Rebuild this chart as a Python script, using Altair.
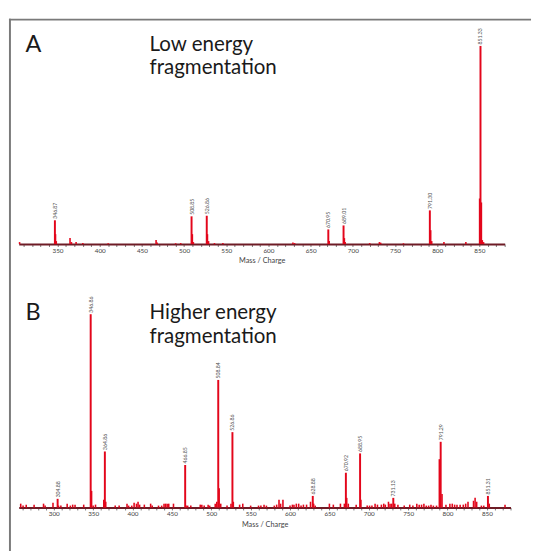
import altair as alt
import pandas as pd

# ---------------- Panel A (low energy) ----------------
a_peak_mz = [346.87, 508.85, 526.86, 670.95, 689.01, 791.30, 851.33]
a_peak_int = [12.0, 14.0, 14.3, 7.4, 9.4, 17.0, 100.0]
a_peak_lbl = ["346.87", "508.85", "526.86", "670.95", "689.01", "791.30", "851.33"]

a_minor_mz = [305, 347.6, 348.5, 364.8, 366.5, 372, 380, 410, 466.8, 468, 490, 496,
              509.8, 511, 527.7, 529, 536, 546, 629, 631, 672, 690, 691, 720, 731.5,
              733, 760, 792.3, 793.5, 808, 834, 850.3, 852.4, 853.5, 855]
a_minor_int = [1.0, 5.0, 1.5, 3.0, 1.0, 1.0, 0.5, 0.4, 2.0, 0.8, 0.4, 0.5,
               5.0, 1.0, 5.0, 1.5, 0.5, 0.5, 0.8, 0.5, 1.5, 3.0, 1.0, 0.5, 1.0,
               0.7, 0.4, 7.0, 1.5, 1.0, 1.0, 23.0, 21.0, 2.0, 1.0]

# ---------------- Panel B (higher energy) ----------------
b_peak_mz = [304.88, 346.86, 364.86, 466.85, 508.84, 526.86, 628.88, 670.92, 688.95, 731.13, 791.29, 851.31]
b_peak_int = [4.5, 100.0, 29.0, 22.0, 66.0, 39.0, 6.0, 18.0, 28.0, 5.0, 34.0, 6.0]
b_peak_lbl = ["304.88", "346.86", "364.86", "466.85", "508.84", "526.86", "628.88",
              "670.92", "688.95", "731.13", "791.29", "851.31"]

b_minor_mz = [258, 261, 265, 275, 287, 289, 299, 306, 309, 317, 321, 324, 327, 338,
              348, 350, 353, 363.5, 366, 378, 383, 393, 395, 399, 402, 405, 407, 409,
              415, 423, 425, 433, 437, 440, 442, 444, 446, 452, 468, 470, 474, 486,
              488, 491, 496, 498, 505, 507, 510, 512, 520, 525, 528, 536, 540, 550,
              560, 563, 567, 570, 580, 583, 586, 588, 591, 600, 603, 605, 608, 611,
              614, 617, 621, 626, 630, 632, 650, 655, 664, 669, 672, 674, 684, 690,
              698, 701, 704, 708, 711, 716, 719, 721, 725, 727, 729, 733, 737, 745,
              752, 756, 761, 764, 767, 770, 773, 776, 779, 782, 786, 789.6, 793, 798,
              803, 806, 809, 812, 816, 820, 823, 826, 833, 835, 837, 843, 846, 853, 873]
b_minor_int = [2.0, 1.0, 1.5, 1.5, 2.0, 1.0, 2.5, 1.0, 1.0, 2.0, 1.0, 1.5, 1.5, 1.5,
               8.6, 1.0, 1.5, 4.0, 3.0, 1.0, 1.0, 2.0, 1.0, 1.0, 2.5, 2.0, 3.0, 1.5,
               1.5, 2.0, 1.0, 1.0, 1.0, 2.0, 2.0, 2.0, 2.0, 2.0, 1.0, 1.0, 1.0, 1.5,
               1.5, 1.0, 1.5, 1.0, 2.0, 3.0, 10.0, 2.0, 1.0, 2.0, 3.0, 1.5, 2.0, 1.0,
               1.0, 1.0, 1.5, 1.0, 1.0, 1.5, 4.0, 2.0, 4.0, 1.0, 1.5, 1.5, 2.0, 2.0,
               1.0, 1.5, 1.5, 3.0, 2.0, 1.0, 2.0, 1.5, 2.0, 2.0, 5.0, 2.0, 1.5, 4.0,
               1.0, 1.0, 1.0, 2.0, 1.5, 1.5, 2.0, 1.5, 3.0, 2.0, 2.0, 2.0, 1.5, 1.0,
               1.5, 1.0, 2.0, 1.5, 1.5, 2.0, 1.0, 1.0, 1.5, 1.0, 1.0, 25.0, 7.0, 1.5,
               2.0, 2.0, 1.5, 1.5, 1.5, 1.5, 2.0, 3.0, 3.5, 5.0, 3.0, 1.0, 1.0, 2.0, 1.5]

RED = "#e3061b"
AXIS_RED = "#6e1c26"
FONT = "Lato"


def panel(peak_mz, peak_int, peak_lbl, minor_mz, minor_int, domain, width, height,
          ymax, letter, line1, line2, y_off, frame=False):
    peaks = pd.DataFrame({"mz": peak_mz, "inten": peak_int, "lbl": peak_lbl})
    minors = pd.DataFrame({"mz": minor_mz, "inten": minor_int})
    ticks = list(range(int(domain[0] // 10 * 10 + 10), int(domain[1]) + 1, 10))
    xscale = alt.Scale(domain=domain, nice=False, zero=False)
    yscale = alt.Scale(domain=[0, ymax], nice=False)
    xaxis = alt.Axis(values=ticks, labelExpr="datum.value % 50 == 0 ? datum.label : ''",
                     title="Mass / Charge", titleFont=FONT, titleFontSize=7.5,
                     titleFontWeight="normal", titleColor="#444", titlePadding=3,
                     labelFont=FONT, labelFontSize=6.5, labelColor="#444", labelPadding=1,
                     tickSize=2.5, tickColor="#555", tickWidth=0.8, domainColor=AXIS_RED,
                     domainWidth=2, grid=False, labelFlush=False)
    base_x = alt.X("mz:Q", scale=xscale, axis=xaxis)
    minor_layer = alt.Chart(minors).mark_rule(color=RED, strokeWidth=1.6).encode(
        x=alt.X("mz:Q", scale=xscale, axis=xaxis),
        y=alt.Y("inten:Q", scale=yscale, axis=None),
        y2=alt.datum(0))
    peak_layer = alt.Chart(peaks).mark_rule(color=RED, strokeWidth=2).encode(
        x=base_x,
        y=alt.Y("inten:Q", scale=yscale, axis=None),
        y2=alt.datum(0))
    label_layer = alt.Chart(peaks).mark_text(
        angle=270, align="left", baseline="middle", dx=1.5, font=FONT, fontSize=5.3,
        color="#555").encode(
        x=base_x, y=alt.Y("inten:Q", scale=yscale, axis=None), text="lbl:N")
    titles = pd.DataFrame({"t": [letter, line1, line2],
                           "px": [7, 134, 134],
                           "py": [y_off, y_off - 1, y_off + 23],
                           "fs": [24, 21, 21]})
    title_layer = alt.Chart(titles).mark_text(
        align="left", baseline="alphabetic", font=FONT, color="#1a1a1a").encode(
        x=alt.X("px:Q", scale=None), y=alt.Y("py:Q", scale=None), text="t:N",
        size=alt.Size("fs:Q", scale=None, legend=None))
    layers = [minor_layer, peak_layer, label_layer, title_layer]
    if frame:
        fr = pd.DataFrame({"fx": [-10, -9], "fx2": [525, -9], "fy": [-17, -18], "fy2": [-17, 535]})
        frame_layer = alt.Chart(fr).mark_rule(color="#7a7a7a", strokeWidth=2).encode(
            x=alt.X("fx:Q", scale=None), x2="fx2:Q",
            y=alt.Y("fy:Q", scale=None), y2="fy2:Q")
        layers = [frame_layer] + layers
    return alt.layer(*layers).properties(width=width, height=height)


pa = panel(a_peak_mz, a_peak_int, a_peak_lbl, a_minor_mz, a_minor_int,
           [304, 880], 498, 213, 104.9, "A", "Low energy", "fragmentation", 16, frame=True)
pb = panel(b_peak_mz, b_peak_int, b_peak_lbl, b_minor_mz, b_minor_int,
           [255.5, 880], 504, 210, 106.0, "B", "Higher energy", "fragmentation", 18)

chart = alt.vconcat(pa, pb, spacing=60, bounds="flush").properties(
    padding={"left": 0, "top": 3, "right": 0, "bottom": 0}
).configure(background="white").configure_view(strokeWidth=0, stroke="transparent")

chart.save("out.html", embed_options={"renderer": "svg", "actions": False})
